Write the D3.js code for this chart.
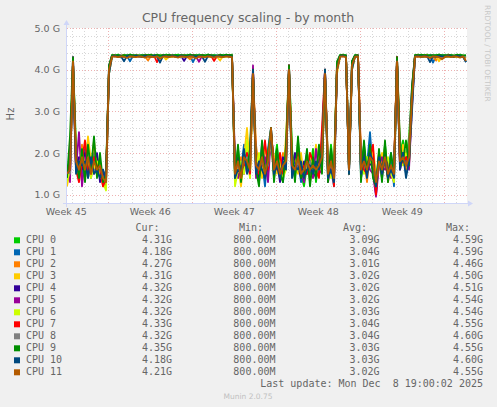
<html>
<head>
<script src="https://cdn.jsdelivr.net/npm/d3@7"></script>
<style>
  body { margin: 0; background: #F0F0F0; }
  text { font-family: "DejaVu Sans", sans-serif; fill: #666; }
  .mono { font-family: "DejaVu Sans Mono", monospace; font-size: 10px; white-space: pre; }
</style>
</head>
<body>
<script>

// ---- data (GHz, one value every 6 hours from startTime) ----
const startTime = Date.UTC(2025, 10, 5, 13, 24);
const endTime = Date.UTC(2025, 11, 8, 21, 24);
const stepMs = 6 * 3600 * 1000;

const cpu0 = [1.5,1.7,4.2,2.2,1.4,2.0,1.7,2.3,1.5,1.9,1.6,1.8,1.3,1.5,
  4.0,4.35,4.34,4.36,4.33,4.35,4.34,4.36,4.35,4.33,4.35,4.34,4.36,4.35,4.34,4.33,4.36,4.35,4.34,4.36,4.35,
  4.33,4.35,4.36,4.34,4.35,4.33,4.36,4.35,4.34,4.36,4.35,4.34,4.36,4.33,4.35,4.34,4.36,4.35,4.34,4.35,4.36,
  1.6,2.1,1.4,1.8,2.2,1.5,3.9,1.9,1.3,2.0,1.6,1.8,2.5,1.7,2.2,1.4,1.6,1.9,4.1,2.1,1.4,2.3,1.5,1.2,1.7,1.6,2.1,1.3,1.9,2.0,3.9,1.4,2.2,1.5,
  4.1,4.35,4.36,4.34,1.8,4.2,4.35,4.34,
  1.7,2.2,1.5,2.1,1.8,1.3,2.0,1.6,2.2,1.5,1.9,1.4,4.3,2.0,2.3,1.8,2.4,3.5,
  4.35,4.36,4.34,4.35,4.36,4.33,4.35,4.34,4.36,4.35,4.34,4.36,4.35,4.33,4.35,4.36,4.34,4.31];
const cpu1 = [1.3,1.9,4.1,1.6,1.8,1.5,2.1,1.7,1.4,2.0,1.8,1.4,1.6,1.2,
  3.9,4.33,4.32,4.34,4.31,4.33,4.33,4.20,4.34,4.32,4.33,4.34,4.31,4.33,4.32,4.34,4.33,4.31,4.34,4.33,4.32,
  4.34,4.33,4.31,4.34,4.33,4.32,4.34,4.18,4.33,4.34,4.32,4.33,4.34,4.31,4.33,4.34,4.32,4.33,4.34,4.33,4.32,
  1.3,1.8,1.6,2.2,1.7,1.9,4.0,1.5,1.7,1.8,1.2,2.1,2.6,1.5,1.9,1.7,1.3,2.1,4.0,1.6,1.8,1.9,1.3,1.6,2.0,1.4,1.8,1.7,1.5,2.3,4.0,1.7,1.6,1.2,
  4.0,4.33,4.34,4.32,1.5,4.1,4.33,4.32,
  1.4,1.8,1.7,2.5,1.5,1.1,1.8,1.7,1.9,1.6,2.0,1.2,4.2,1.8,2.0,1.5,2.1,3.2,
  4.33,4.32,4.34,4.33,4.31,4.34,4.17,4.33,4.32,4.34,4.33,4.32,4.34,4.31,4.33,4.34,4.32,4.18];
const cpu2 = [1.4,1.5,4.2,1.9,1.6,2.2,1.4,1.8,1.6,2.3,1.5,1.7,1.2,1.4,
  4.0,4.32,4.33,4.30,4.33,4.32,4.31,4.33,4.30,4.32,4.33,4.31,4.32,4.22,4.33,4.31,4.32,4.33,4.30,4.32,4.31,
  4.33,4.32,4.30,4.33,4.32,4.31,4.25,4.32,4.33,4.31,4.32,4.30,4.33,4.32,4.31,4.33,4.32,4.30,4.33,4.31,4.32,
  1.7,1.5,1.9,1.6,2.1,1.4,3.9,2.2,1.6,1.9,1.5,2.0,2.4,1.8,1.6,1.5,2.0,1.7,4.0,1.8,1.6,2.0,1.7,1.4,1.9,1.3,1.7,1.6,2.0,1.8,3.9,1.6,1.8,1.4,
  4.1,4.32,4.33,4.31,1.7,4.0,4.32,4.31,
  1.6,1.9,1.3,2.0,1.9,1.4,1.7,1.8,2.1,1.3,1.7,1.5,4.3,2.1,1.9,1.6,2.2,3.4,
  4.32,4.31,4.33,4.30,4.32,4.33,4.31,4.22,4.32,4.33,4.31,4.32,4.30,4.33,4.32,4.31,4.33,4.27];
const cpu3 = [1.2,1.6,4.0,2.0,1.7,1.9,1.5,2.4,1.8,1.6,1.9,1.5,1.4,1.3,
  3.9,4.31,4.33,4.32,4.30,4.33,4.31,4.32,4.33,4.30,4.32,4.33,4.31,4.32,4.30,4.33,4.32,4.31,4.33,4.24,4.32,
  4.31,4.33,4.32,4.30,4.33,4.31,4.32,4.33,4.30,4.32,4.31,4.33,4.32,4.30,4.33,4.31,4.22,4.32,4.33,4.31,4.32,
  1.4,1.7,1.2,1.9,2.6,1.6,3.8,1.7,1.9,1.4,2.2,1.7,2.3,1.9,1.5,1.8,1.4,2.4,3.9,1.7,1.9,1.5,2.0,1.4,1.6,1.8,1.5,2.2,1.6,1.7,3.8,1.8,1.5,1.7,
  3.9,4.31,4.33,4.32,1.6,4.1,4.31,4.33,
  1.8,1.6,1.9,1.7,2.1,1.5,1.6,2.0,1.7,1.8,1.5,1.6,4.2,1.7,2.2,1.9,1.8,3.3,
  4.31,4.33,4.32,4.30,4.33,4.31,4.32,4.33,4.20,4.32,4.31,4.33,4.32,4.30,4.33,4.31,4.32,4.31];
const cpu4 = [1.6,1.4,4.3,1.7,1.9,1.6,2.0,1.5,1.7,1.8,2.0,1.3,1.5,1.3,
  4.1,4.33,4.34,4.32,4.33,4.31,4.34,4.33,4.32,4.34,4.33,4.31,4.34,4.33,4.32,4.34,4.33,4.31,4.34,4.33,4.32,
  4.34,4.33,4.31,4.34,4.21,4.33,4.32,4.34,4.33,4.31,4.34,4.33,4.32,4.34,4.33,4.31,4.34,4.33,4.32,4.34,4.33,
  1.5,1.9,1.5,1.7,2.0,1.8,4.0,1.6,1.4,2.2,1.7,1.5,2.6,1.6,1.8,1.3,1.9,1.8,4.1,1.5,2.0,1.7,1.4,1.8,1.5,1.9,1.6,1.4,1.8,2.1,4.0,1.5,1.9,1.6,
  4.0,4.33,4.34,4.32,1.6,4.2,4.33,4.34,
  1.5,2.1,1.6,1.8,1.6,1.0,1.9,1.4,2.0,1.7,1.6,1.3,4.3,1.9,2.0,1.7,2.0,3.6,
  4.33,4.34,4.32,4.33,4.31,4.34,4.33,4.32,4.34,4.33,4.31,4.34,4.33,4.32,4.34,4.33,4.31,4.32];
const cpu5 = [1.7,1.3,4.3,1.6,2.5,1.2,1.9,1.6,1.8,1.5,1.7,1.6,1.4,1.2,
  4.0,4.33,4.32,4.33,4.34,4.31,4.33,4.32,4.34,4.33,4.31,4.33,4.34,4.32,4.33,4.31,4.34,4.33,4.32,4.33,4.34,
  4.31,4.33,4.32,4.34,4.33,4.31,4.33,4.34,4.32,4.19,4.33,4.31,4.34,4.33,4.32,4.33,4.34,4.31,4.33,4.32,4.34,
  1.8,1.4,1.7,1.5,1.9,1.7,4.1,1.4,1.8,1.6,1.9,1.3,2.4,1.4,2.0,1.6,1.5,1.7,4.1,1.5,1.7,1.8,1.6,1.3,1.9,1.7,1.4,2.1,1.5,1.6,4.0,1.3,1.7,1.5,
  4.1,4.33,4.32,4.34,1.7,4.1,4.33,4.32,
  1.6,1.7,1.8,1.6,1.5,0.95,1.7,1.9,1.6,1.8,1.4,1.6,4.2,1.6,1.9,2.0,1.6,3.1,
  4.33,4.32,4.34,4.33,4.31,4.33,4.34,4.32,4.33,4.31,4.34,4.33,4.32,4.33,4.34,4.31,4.33,4.32];
const cpu6 = [1.3,1.6,4.1,1.8,1.5,2.1,1.6,1.9,1.4,1.7,1.8,1.5,1.3,1.1,
  4.0,4.32,4.33,4.31,4.33,4.32,4.30,4.33,4.32,4.31,4.33,4.32,4.30,4.33,4.32,4.31,4.33,4.32,4.30,4.33,4.32,
  4.31,4.33,4.32,4.30,4.33,4.32,4.31,4.33,4.32,4.30,4.33,4.32,4.31,4.33,4.32,4.30,4.33,4.32,4.31,4.33,4.32,
  1.2,1.6,1.8,1.5,2.3,1.4,3.9,1.6,2.0,1.7,1.5,1.9,2.2,1.5,1.7,1.9,1.4,1.6,4.0,1.9,1.5,1.6,1.8,1.5,1.7,2.0,1.6,1.5,1.7,1.9,3.9,1.6,1.4,1.8,
  4.0,4.32,4.33,4.31,1.6,4.0,4.32,4.33,
  1.7,1.5,1.9,1.8,1.7,1.2,1.8,1.6,1.7,1.9,1.5,1.3,4.1,1.8,1.7,2.0,1.9,3.3,
  4.32,4.33,4.31,4.33,4.32,4.30,4.33,4.32,4.31,4.33,4.32,4.30,4.33,4.32,4.31,4.33,4.32,4.32];
const cpu7 = [1.5,1.8,4.2,1.6,1.3,1.8,2.3,1.6,1.5,1.9,1.7,1.6,1.2,1.4,
  4.0,4.33,4.34,4.32,4.33,4.34,4.31,4.33,4.32,4.34,4.33,4.32,4.34,4.33,4.31,4.34,4.18,4.33,4.34,4.32,4.33,
  4.34,4.31,4.33,4.32,4.34,4.33,4.32,4.34,4.33,4.31,4.34,4.33,4.32,4.34,4.21,4.33,4.34,4.32,4.33,4.34,4.33,
  1.5,1.8,1.6,1.7,2.0,1.5,4.0,1.8,1.5,1.7,2.3,1.6,2.5,1.7,1.6,2.0,1.5,1.9,4.1,1.7,1.5,2.0,1.6,1.7,1.5,2.0,1.8,1.6,1.4,2.6,4.0,1.6,2.0,1.2,
  4.1,4.33,4.34,4.32,1.5,4.1,4.33,4.34,
  1.9,1.6,1.5,1.9,2.2,1.0,2.0,1.5,1.8,1.4,1.7,1.6,4.3,1.7,1.8,1.9,1.7,3.4,
  4.33,4.34,4.32,4.33,4.34,4.31,4.33,4.32,4.34,4.33,4.32,4.34,4.33,4.31,4.34,4.33,4.32,4.33];
const cpu8 = [1.6,1.5,4.2,1.7,1.6,1.9,1.5,2.0,1.7,1.6,1.5,1.7,1.4,1.3,
  4.0,4.32,4.33,4.32,4.31,4.33,4.32,4.33,4.31,4.32,4.33,4.32,4.31,4.33,4.32,4.33,4.31,4.32,4.33,4.32,4.31,
  4.33,4.32,4.33,4.31,4.32,4.33,4.32,4.31,4.33,4.32,4.33,4.31,4.32,4.33,4.32,4.31,4.33,4.32,4.33,4.31,4.32,
  1.6,1.7,1.5,1.8,1.9,1.6,3.9,1.7,1.6,1.8,1.6,1.7,2.4,1.6,1.8,1.5,1.7,1.8,4.0,1.7,1.6,1.8,1.5,1.6,1.7,1.8,1.6,1.5,1.7,1.8,3.9,1.6,1.7,1.5,
  4.0,4.32,4.33,4.32,1.6,4.1,4.32,4.33,
  1.6,1.8,1.6,1.9,1.7,1.4,1.8,1.6,1.8,1.5,1.7,1.5,4.2,1.8,1.9,1.7,1.9,3.3,
  4.32,4.33,4.32,4.31,4.33,4.32,4.33,4.31,4.32,4.33,4.32,4.31,4.33,4.32,4.33,4.31,4.32,4.32];
const cpu9 = [1.4,2.4,4.3,1.9,1.4,2.1,1.3,2.2,1.6,2.4,1.4,2.0,1.3,1.5,
  4.1,4.35,4.34,4.35,4.33,4.35,4.34,4.36,4.34,4.35,4.33,4.35,4.34,4.35,4.36,4.34,4.35,4.33,4.35,4.34,4.36,
  4.34,4.35,4.33,4.35,4.34,4.35,4.36,4.34,4.35,4.33,4.35,4.34,4.36,4.35,4.34,4.33,4.35,4.34,4.36,4.35,4.34,
  1.4,2.2,1.3,2.0,1.6,2.1,4.0,1.6,1.2,2.3,1.4,2.0,2.6,1.3,2.1,1.5,1.3,2.2,4.1,2.0,1.3,2.4,1.4,1.5,2.1,1.2,1.9,1.4,2.2,1.5,4.0,1.3,2.1,1.4,
  4.2,4.35,4.34,4.35,1.5,4.2,4.35,4.34,
  1.3,2.3,1.5,2.2,1.4,1.2,2.1,1.3,2.3,1.3,2.0,1.5,4.3,2.2,1.8,2.3,1.7,3.6,
  4.35,4.34,4.36,4.35,4.33,4.35,4.34,4.35,4.36,4.34,4.35,4.33,4.35,4.34,4.36,4.35,4.34,4.35];
const cpu10 = [1.5,1.6,4.1,1.5,1.8,1.7,1.8,1.4,1.9,1.5,1.6,1.4,1.6,1.4,
  3.9,4.32,4.33,4.31,4.32,4.20,4.33,4.32,4.31,4.33,4.32,4.31,4.33,4.32,4.31,4.33,4.32,4.17,4.33,4.32,4.31,
  4.33,4.32,4.31,4.33,4.32,4.31,4.33,4.32,4.31,4.33,4.32,4.19,4.33,4.32,4.31,4.33,4.32,4.31,4.33,4.32,4.31,
  1.4,1.6,1.5,2.1,1.5,1.7,4.0,1.5,1.8,1.6,1.4,1.8,2.5,1.5,1.7,1.4,1.8,1.6,4.0,1.4,1.7,1.6,1.8,1.4,1.6,1.7,1.5,1.8,1.6,2.0,4.0,1.4,1.6,1.3,
  4.0,4.32,4.33,4.31,1.5,4.0,4.32,4.31,
  1.5,1.9,1.4,2.0,1.8,1.2,1.9,1.5,1.9,1.4,1.6,1.4,4.2,1.6,2.0,1.4,1.8,3.0,
  4.32,4.33,4.31,4.32,4.33,4.18,4.32,4.31,4.33,4.32,4.31,4.33,4.32,4.31,4.33,4.32,4.31,4.18];
const cpu11 = [1.5,1.6,4.2,1.8,1.6,1.9,1.6,1.9,1.5,1.8,1.6,1.7,1.4,1.3,
  4.0,4.31,4.32,4.30,4.32,4.31,4.28,4.32,4.31,4.30,4.32,4.31,4.29,4.32,4.31,4.30,4.32,4.26,4.31,4.32,4.30,
  4.32,4.31,4.29,4.32,4.31,4.30,4.32,4.31,4.27,4.32,4.31,4.30,4.32,4.31,4.29,4.32,4.31,4.30,4.32,4.31,4.30,
  1.5,1.8,1.4,1.9,1.8,1.6,3.9,1.7,1.6,1.9,1.5,1.8,2.6,1.6,1.8,1.5,1.7,1.8,4.0,1.7,1.6,1.9,1.5,1.6,1.8,1.6,1.7,1.6,1.7,1.9,3.9,1.5,1.8,1.4,
  4.0,4.31,4.32,4.30,1.6,4.1,4.31,4.32,
  1.6,1.8,1.6,1.9,1.8,1.3,1.8,1.6,1.9,1.5,1.7,1.5,4.2,1.8,1.9,1.7,1.9,3.3,
  4.31,4.32,4.30,4.32,4.31,4.28,4.32,4.31,4.30,4.25,4.31,4.32,4.30,4.32,4.31,4.29,4.32,4.21];

const allSeries = [cpu0,cpu1,cpu2,cpu3,cpu4,cpu5,cpu6,cpu7,cpu8,cpu9,cpu10,cpu11];
const cpuNames = ["CPU 0","CPU 1","CPU 2","CPU 3","CPU 4","CPU 5","CPU 6","CPU 7","CPU 8","CPU 9","CPU 10","CPU 11"];
const curVals = ["4.31G","4.18G","4.27G","4.31G","4.32G","4.32G","4.32G","4.33G","4.32G","4.35G","4.18G","4.21G"];
const minVals = ["800.00M","800.00M","800.00M","800.00M","800.00M","800.00M","800.00M","800.00M","800.00M","800.00M","800.00M","800.00M"];
const avgVals = ["3.09G","3.04G","3.01G","3.02G","3.02G","3.02G","3.03G","3.04G","3.04G","3.03G","3.03G","3.02G"];
const maxVals = ["4.59G","4.59G","4.46G","4.50G","4.51G","4.54G","4.54G","4.55G","4.60G","4.55G","4.60G","4.55G"];

// tick labels
const yTicks = [1, 2, 3, 4, 5];
const yTickLabels = ["1.0 G","2.0 G","3.0 G","4.0 G","5.0 G"];
const weekMondays = [Date.UTC(2025,10,3), Date.UTC(2025,10,10), Date.UTC(2025,10,17), Date.UTC(2025,10,24), Date.UTC(2025,11,1)];
const weekLabels = ["Week 45","Week 46","Week 47","Week 48","Week 49"];

// munin palette
const colors = ["#00CC00","#0066B3","#FF8000","#FFCC00","#330099","#990099","#CCFF00","#FF0000","#808080","#008F00","#00487D","#B35A00"];

// ---- layout ----
const W = 497, H = 407;
const pL = 67, pR = 467, pT = 28, pB = 203;

let svg = d3.select("body").append("svg")
  .attr("width", W)
  .attr("height", H);

let x = d3.scaleUtc().domain([startTime, endTime]).range([pL, pR]);
let y = d3.scaleLinear().domain([0.8, 5.0]).range([pB, pT]);

// canvas
svg.append("rect")
  .attr("x", pL).attr("y", pT)
  .attr("width", pR - pL).attr("height", pB - pT)
  .attr("fill", "#FFFFFF");

// horizontal grid, every 0.2 G, red on whole G
const minorColor = "rgba(140,140,140,0.35)";
const majorColor = "rgba(210,60,60,0.4)";
let grid = svg.append("g");
d3.range(8, 51, 2).map(v => v / 10).forEach(v => {
  let major = Math.abs(v - Math.round(v)) < 1e-9;
  grid.append("line")
    .attr("x1", pL).attr("x2", pR)
    .attr("y1", Math.round(y(v)) + 0.5).attr("y2", Math.round(y(v)) + 0.5)
    .attr("stroke", major ? majorColor : minorColor)
    .attr("stroke-dasharray", "1,2");
});

// vertical grid: days minor, sundays major
let sundays = d3.utcSunday.range(startTime, endTime).map(d => +d);
d3.utcDay.range(startTime, endTime).forEach(d => {
  let major = sundays.includes(+d);
  grid.append("line")
    .attr("x1", Math.round(x(d)) + 0.5).attr("x2", Math.round(x(d)) + 0.5)
    .attr("y1", pT).attr("y2", pB)
    .attr("stroke", major ? majorColor : minorColor)
    .attr("stroke-dasharray", "1,2");
});

// data lines
svg.append("clipPath").attr("id", "plot")
  .append("rect").attr("x", pL).attr("y", pT - 2)
  .attr("width", pR - pL).attr("height", pB - pT + 2);

let line = d3.line()
  .x((d, i) => x(startTime + i * stepMs))
  .y(d => y(d));

let lines = svg.append("g").attr("clip-path", "url(#plot)");
allSeries.forEach((s, k) => {
  lines.append("path")
    .datum(s)
    .attr("d", line)
    .attr("fill", "none")
    .attr("stroke", colors[k])
    .attr("stroke-width", 1.8)
    .attr("stroke-linejoin", "round");
});

// axes with arrows
const axisColor = "#CFD6F8";
svg.append("line")
  .attr("x1", pL - 4).attr("x2", pR + 3)
  .attr("y1", pB + 0.5).attr("y2", pB + 0.5)
  .attr("stroke", axisColor);
svg.append("path")
  .attr("d", `M${pR + 1},${pB - 2.5}L${pR + 6},${pB + 0.5}L${pR + 1},${pB + 3.5}Z`)
  .attr("fill", axisColor);
svg.append("line")
  .attr("x1", pL - 0.5).attr("x2", pL - 0.5)
  .attr("y1", pB + 4).attr("y2", pT - 4)
  .attr("stroke", axisColor);
svg.append("path")
  .attr("d", `M${pL - 3.5},${pT - 3}L${pL - 0.5},${pT - 8}L${pL + 2.5},${pT - 3}Z`)
  .attr("fill", axisColor);

// y tick labels
yTicks.forEach((t, i) => {
  svg.append("text")
    .attr("x", 60).attr("y", y(t) + 3.5)
    .attr("text-anchor", "end")
    .style("font-size", "9.5px")
    .text(yTickLabels[i]);
});

// week labels, centred mid-week
weekMondays.forEach((m, i) => {
  svg.append("text")
    .attr("x", x(m + 60 * 3600 * 1000)).attr("y", 215)
    .attr("text-anchor", "middle")
    .style("font-size", "9.5px")
    .text(weekLabels[i]);
});

// titles
svg.append("text")
  .attr("x", 248).attr("y", 22)
  .attr("text-anchor", "middle")
  .style("font-size", "12.5px")
  .text("CPU frequency scaling - by month");

svg.append("text")
  .attr("transform", "translate(14,114) rotate(-90)")
  .attr("text-anchor", "middle")
  .style("font-size", "10px")
  .text("Hz");

svg.append("text")
  .attr("transform", "translate(484.5,5) rotate(90)")
  .style("font-size", "7.5px")
  .style("fill", "#C8C8C8")
  .text("RRDTOOL / TOBI OETIKER");

// legend
let legend = svg.append("g");
const headers = [["Cur:", 159.5], ["Min:", 263], ["Avg:", 367], ["Max:", 470]];
headers.forEach(h => {
  legend.append("text").attr("class", "mono")
    .attr("x", h[1]).attr("y", 231)
    .attr("text-anchor", "end")
    .text(h[0]);
});

cpuNames.forEach((name, i) => {
  let by = 243.3 + i * 12;
  legend.append("rect")
    .attr("x", 14).attr("y", by - 6)
    .attr("width", 6).attr("height", 6)
    .attr("fill", colors[i]);
  legend.append("text").attr("class", "mono").attr("x", 26).attr("y", by).text(name);
  legend.append("text").attr("class", "mono").attr("x", 172).attr("y", by).attr("text-anchor", "end").text(curVals[i]);
  legend.append("text").attr("class", "mono").attr("x", 275.5).attr("y", by).attr("text-anchor", "end").text(minVals[i]);
  legend.append("text").attr("class", "mono").attr("x", 379.5).attr("y", by).attr("text-anchor", "end").text(avgVals[i]);
  legend.append("text").attr("class", "mono").attr("x", 483).attr("y", by).attr("text-anchor", "end").text(maxVals[i]);
});

legend.append("text").attr("class", "mono")
  .attr("x", 483).attr("y", 387)
  .attr("text-anchor", "end")
  .text("Last update: Mon Dec  8 19:00:02 2025");

svg.append("text")
  .attr("x", 248).attr("y", 399)
  .attr("text-anchor", "middle")
  .style("font-size", "7.5px")
  .style("fill", "#C0C0C0")
  .text("Munin 2.0.75");

</script>
</body>
</html>
